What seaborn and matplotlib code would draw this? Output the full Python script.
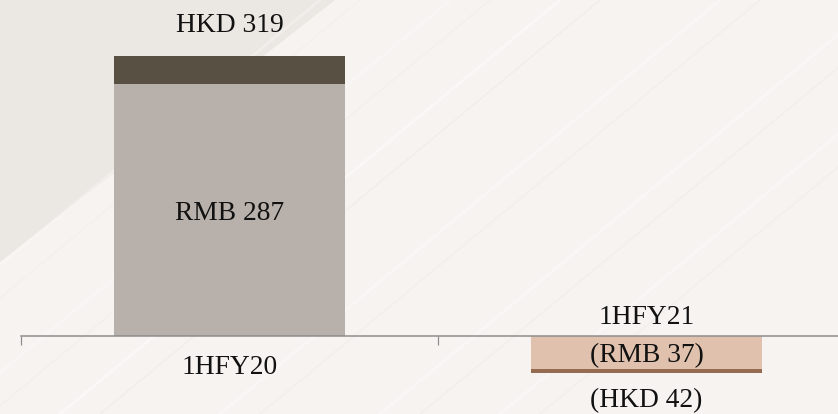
import matplotlib
matplotlib.use("Agg")
import matplotlib.pyplot as plt
import seaborn as sns

# datos
periods = ["1HFY20", "1HFY21"]
rmb = [287, -37]
hkd = [319, -42]
rmb_labels = ["RMB 287", "(RMB 37)"]
hkd_labels = ["HKD 319", "(HKD 42)"]

sns.set_style("white")
plt.rcParams["font.family"] = ["Liberation Serif", "DejaVu Serif"]

DPI = 72
fig = plt.figure(figsize=(838 / DPI, 414 / DPI), dpi=DPI, facecolor="#F6F3F0")

# fondo: zona beige arriba a la izquierda y algunas vetas claras
bg = fig.add_axes([0, 0, 1, 1], zorder=0)
bg.set_xlim(0, 838)
bg.set_ylim(414, 0)
bg.axis("off")
bg.fill([0, 0, 335, 0], [0, 262, 0, 0], color="#EBE7E3", lw=0)
for x0, a in [(360, 0.9), (520, 0.7), (680, 0.8), (250, 0.6), (800, 0.7), (120, 0.5)]:
    bg.plot([x0 - 300, x0 + 200], [414, 0], color="white", lw=3, alpha=a * 0.5)
    bg.plot([x0 - 260, x0 + 240], [414, 0], color="#E9E5E1", lw=1.5, alpha=a * 0.4)

ax = fig.add_axes([21 / 838, 0, 834 / 838, 1], zorder=1)
ax.patch.set_alpha(0)

# barras apiladas: primero HKD (total), encima RMB
sns.barplot(x=periods, y=hkd, hue=periods, palette=["#595044", "#956B52"],
            dodge=False, width=0.556, saturation=1, legend=False, linewidth=0, ax=ax)
sns.barplot(x=periods, y=rmb, hue=periods, palette=["#B8B1AB", "#DFC1AD"],
            dodge=False, width=0.556, saturation=1, legend=False, linewidth=0, ax=ax)

ax.set_xlim(-0.5, 1.5)
ax.set_ylim(-88.8, 382.7)
ax.set_xlabel("")
ax.set_ylabel("")
ax.set_yticks([])
for s in ["left", "right", "top"]:
    ax.spines[s].set_visible(False)
ax.spines["bottom"].set_position(("data", 0))
ax.spines["bottom"].set_color("#8C8C8C")
ax.spines["bottom"].set_linewidth(1.5)
ax.set_xticks([-0.5, 0.5])
ax.set_xticklabels(["", ""])
ax.tick_params(axis="x", bottom=True, direction="out", length=9, width=1.2, color="#8C8C8C")
for t in ax.xaxis.get_major_ticks():
    t.tick1line.set_clip_on(False)

fs = 27.5
for i, p in enumerate(periods):
    if hkd[i] > 0:
        ax.annotate(hkd_labels[i], (i, hkd[i]), xytext=(0, 24), textcoords="offset points",
                    ha="center", va="baseline", fontsize=fs, color="#111111")
        ax.text(i, rmb[i] / 2, rmb_labels[i], ha="center", va="center_baseline",
                fontsize=fs, color="#111111")
        ax.annotate(p, (i, 0), xytext=(0, -38), textcoords="offset points",
                    ha="center", va="baseline", fontsize=fs, color="#111111")
    else:
        ax.annotate(p, (i, 0), xytext=(0, 12), textcoords="offset points",
                    ha="center", va="baseline", fontsize=fs, color="#111111")
        ax.text(i, rmb[i] / 2, rmb_labels[i], ha="center", va="center_baseline",
                fontsize=fs, color="#111111")
        ax.annotate(hkd_labels[i], (i, hkd[i]), xytext=(0, -34), textcoords="offset points",
                    ha="center", va="baseline", fontsize=fs, color="#111111")

fig.savefig("out.png", dpi=DPI, facecolor=fig.get_facecolor())
